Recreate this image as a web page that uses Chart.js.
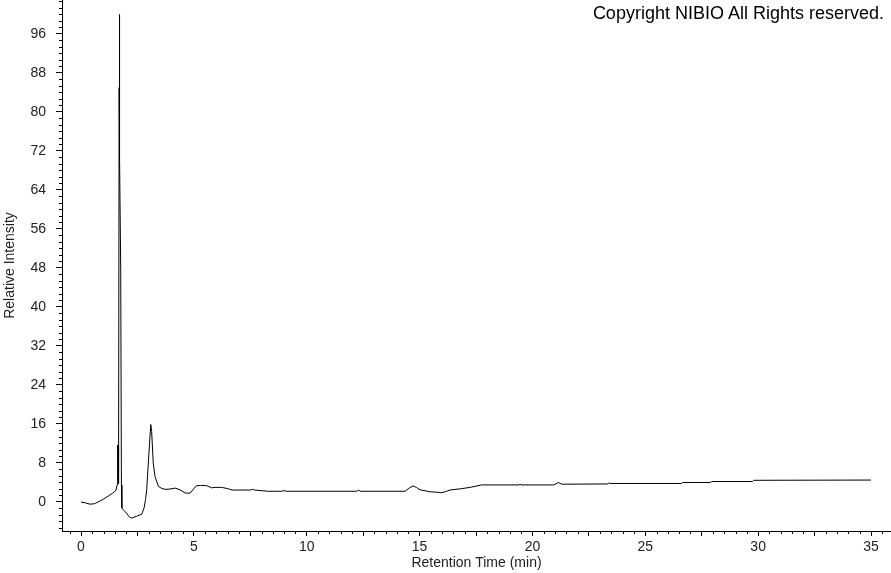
<!DOCTYPE html>
<html>
<head>
<meta charset="utf-8">
<title>Chromatogram</title>
<script src="https://cdn.jsdelivr.net/npm/chart.js@4.4.1/dist/chart.umd.min.js"></script>
<style>
  body { margin: 0; background: #fff; }
  #wrap { position: relative; width: 891px; height: 573px; }
  #copy {
    position: absolute; right: 7px; top: 3px;
    font-family: "Liberation Sans", Arial, sans-serif;
    font-size: 18px; color: #000;
  }
</style>
</head>
<body>
<div id="wrap">
  <canvas id="chromChart" width="891" height="573"></canvas>
  <div id="copy">Copyright NIBIO All Rights reserved.</div>
</div>
<script>
// data

const retentionTime = [
  0, 0.2, 0.4, 0.6, 0.8, 1.0, 1.2, 1.4, 1.55, 1.6,
  1.62, 1.63, 1.64, 1.65, 1.66, 1.68, 1.69, 1.70, 1.715, 1.76,
  1.79, 1.81, 1.87, 2.02, 2.15, 2.25, 2.47, 2.69, 2.79, 2.86,
  2.91, 3.01, 3.09, 3.13, 3.2, 3.28, 3.43, 3.57, 3.72, 3.94,
  4.17, 4.39, 4.61, 4.83, 5.1, 5.3, 5.57, 5.79, 5.94, 6.23,
  6.53, 6.7, 7.5, 7.6, 7.7, 8.3, 8.9, 9.0, 9.1, 12.2,
  12.3, 12.4, 14.36, 14.55, 14.72, 14.85, 15.02, 15.46, 15.8, 15.98,
  16.2, 16.35, 16.8, 17.24, 17.75, 19.4, 19.45, 19.5, 20.95, 21.15,
  21.3, 23.35, 23.4, 23.45, 26.6, 26.65, 27.9, 27.95, 29.75, 29.8,
  35
];

const intensity = [
  0, -0.2, -0.45, -0.35, 0.1, 0.6, 1.2, 1.8, 2.4, 3.5,
  6, 11.7, 5, 11.5, 4, 3.8, 85, 100, 71, 47.6,
  3.5, -1.2, -1.6, -2.3, -3.1, -3.3, -2.9, -2.5, -1.3, 0.5,
  2.5, 10, 15.9, 14.5, 8, 5.2, 3.2, 2.8, 2.6, 2.65,
  2.85, 2.5, 1.85, 1.8, 3.3, 3.4, 3.35, 2.9, 3.0, 3.0,
  2.7, 2.45, 2.45, 2.6, 2.45, 2.2, 2.2, 2.35, 2.2, 2.2,
  2.4, 2.2, 2.2, 2.9, 3.3, 3.0, 2.5, 2.1, 2.0, 1.9,
  2.2, 2.46, 2.7, 3.0, 3.5, 3.5, 3.65, 3.5, 3.5, 4.0,
  3.65, 3.7, 3.95, 3.8, 3.8, 4.0, 4.0, 4.2, 4.2, 4.45,
  4.5
];

const xTickValues = [0, 2.5, 5, 7.5, 10, 12.5, 15, 17.5, 20, 22.5, 25, 27.5, 30, 32.5, 35];
const yTickValues = [0, 8, 16, 24, 32, 40, 48, 56, 64, 72, 80, 88, 96];

const xMinorStep = 0.5;
const yMinorStep = 8 / 6;

const axisFont = { family: "'Liberation Sans', Arial, sans-serif", size: 14 };
const textColor = '#222';

// small minor tick marks along both axes
const minorTicks = {
  id: 'minorTicks',
  afterDraw(chart) {
    const c = chart.ctx;
    const xs = chart.scales.x;
    const ys = chart.scales.y;
    c.save();
    c.strokeStyle = '#000';
    c.lineWidth = 1;
    c.beginPath();
    for (let v = Math.ceil(xs.min / xMinorStep) * xMinorStep; v <= xs.max; v += xMinorStep) {
      if (Math.abs(v / 2.5 - Math.round(v / 2.5)) < 1e-6) continue;
      const px = Math.round(xs.getPixelForValue(v)) + 0.5;
      c.moveTo(px, xs.top);
      c.lineTo(px, xs.top + 3);
    }
    for (let v = Math.ceil(ys.min / yMinorStep) * yMinorStep; v <= ys.max; v += yMinorStep) {
      if (Math.abs(v / 8 - Math.round(v / 8)) < 1e-6) continue;
      const py = Math.round(ys.getPixelForValue(v)) + 0.5;
      c.moveTo(ys.right - 3, py);
      c.lineTo(ys.right, py);
    }
    c.stroke();
    c.restore();
  }
};

const ctx = document.getElementById('chromChart');

new Chart(ctx, {
  type: 'line',
  data: {
    datasets: [{
      data: retentionTime.map((t, i) => ({ x: t, y: intensity[i] })),
      borderColor: '#000',
      borderWidth: 1,
      pointRadius: 0,
      tension: 0,
      fill: false
    }]
  },
  options: {
    responsive: false,
    animation: false,
    devicePixelRatio: 1,
    layout: { padding: 0 },
    plugins: {
      legend: { display: false },
      tooltip: { enabled: false }
    },
    scales: {
      x: {
        type: 'linear',
        min: -0.842,
        max: 35.886,
        afterBuildTicks: s => { s.ticks = xTickValues.map(v => ({ value: v })); },
        afterFit: s => { s.height = 42; s.paddingLeft = 0; s.paddingRight = 0; },
        ticks: {
          autoSkip: false,
          maxRotation: 0,
          padding: 3,
          color: textColor,
          font: axisFont,
          callback: v => (v % 5 === 0 ? String(v) : '')
        },
        grid: {
          drawOnChartArea: false,
          tickLength: 5,
          tickColor: '#000'
        },
        border: { color: '#000', width: 1 },
        title: {
          display: true,
          text: 'Retention Time (min)',
          color: textColor,
          font: axisFont,
          padding: { top: 0, bottom: 1 }
        }
      },
      y: {
        min: -5.95,
        max: 102.97,
        afterBuildTicks: s => { s.ticks = yTickValues.map(v => ({ value: v })); },
        afterFit: s => { s.width = 62; s.paddingTop = 0; s.paddingBottom = 0; },
        ticks: {
          autoSkip: false,
          padding: 10,
          color: textColor,
          font: axisFont
        },
        grid: {
          drawOnChartArea: false,
          tickLength: 6,
          tickColor: '#000'
        },
        border: { color: '#000', width: 1 },
        title: {
          display: true,
          text: 'Relative Intensity',
          color: textColor,
          font: axisFont,
          padding: { top: 2, bottom: 0 }
        }
      }
    }
  },
  plugins: [minorTicks]
});
</script>
</body>
</html>
